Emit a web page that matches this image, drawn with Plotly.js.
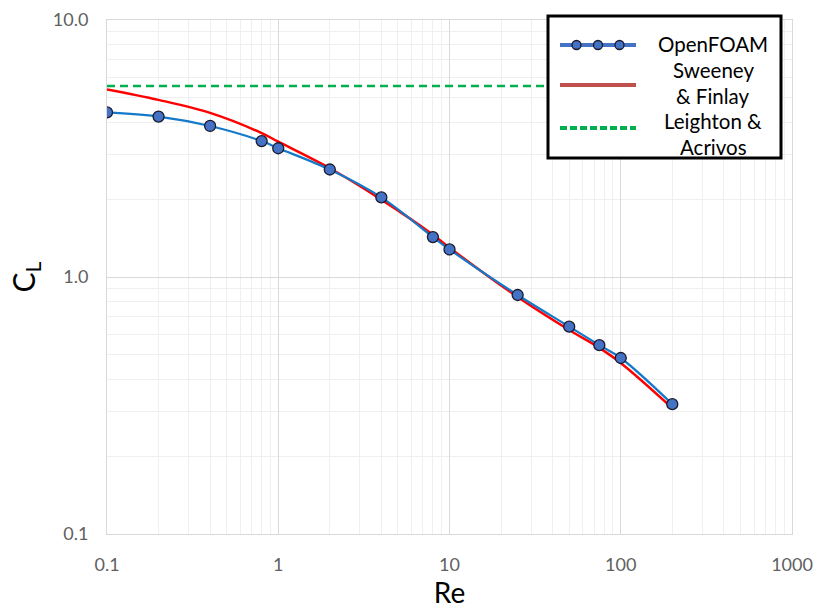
<!DOCTYPE html>
<html>
<head>
<meta charset="utf-8">
<script src="https://cdn.plot.ly/plotly-3.0.1.min.js"></script>
<style>
  html, body { margin: 0; padding: 0; background: #ffffff; }
  #chart { width: 817px; height: 609px; }
</style>
</head>
<body>
<div id="chart"></div>
<script>
// Lift coefficient of a sphere near a wall versus Reynolds number
const reOpenFoam = [0.1, 0.2, 0.4, 0.8, 1, 2, 4, 8, 10, 25, 50, 75, 100, 200];
const clOpenFoam = [4.37, 4.21, 3.87, 3.38, 3.17, 2.62, 2.04, 1.43, 1.28, 0.851, 0.641, 0.543, 0.484, 0.320];

const reSweeney = [0.1, 0.2, 0.4, 0.8, 1, 2, 4, 8, 10, 25, 50, 75, 100, 200];
const clSweeney = [5.37, 4.89, 4.35, 3.63, 3.36, 2.65, 2.00, 1.46, 1.30, 0.836, 0.622, 0.530, 0.463, 0.309];

const reLeighton = [0.1, 200];
const clLeighton = [5.53, 5.53];

const xTickVals = [0.1, 1, 10, 100, 1000];
const xTickText = ["0.1", "1", "10", "100", "1000"];
const yTickVals = [0.1, 1, 10];
const yTickText = ["0.1", "1.0", "10.0"];

// key labels: each entry split into its text lines
const legendNames = [["OpenFOAM"], ["Sweeney", "& Finlay"], ["Leighton &", "Acrivos"]];

const colBlueLine = "#1479C9";
const colBlueKey = "#4472C4";
const colRedLine = "#FF0000";
const colRedKey = "#C0504D";
const colGreen = "#00B050";
const colMarkerEdge = "#1a1a2e";

// minor grid positions: 2..9 within each decade
function minorVals(lo, hi) {
  const out = [];
  for (let d = lo; d < hi; d++) {
    for (let k = 2; k <= 9; k++) out.push(k * Math.pow(10, d));
  }
  return out;
}

const traces = [
  {
    name: "Leighton & Acrivos",
    x: reLeighton, y: clLeighton, mode: "lines",
    line: { color: colGreen, width: 2.5, dash: "8px,5px" }
  },
  {
    name: "Sweeney & Finlay",
    x: reSweeney, y: clSweeney, mode: "lines",
    line: { color: colRedLine, width: 2.5, shape: "spline", smoothing: 1 }
  },
  {
    name: "OpenFOAM",
    x: reOpenFoam, y: clOpenFoam, mode: "lines+markers",
    line: { color: colBlueLine, width: 2.2, shape: "spline", smoothing: 1 },
    marker: { color: colBlueKey, size: 11, line: { color: colMarkerEdge, width: 1.3 } }
  }
];

// ---- boxed key in the upper right corner (paper coordinates) ----
const plotL = 107, plotR = 792, plotT = 20, plotB = 534;
const px = v => (v - plotL) / (plotR - plotL);
const py = v => (plotB - v) / (plotB - plotT);

const keyX0 = 560, keyX1 = 636;
const keyRows = [45, 85, 128];
const shapes = [
  {
    type: "rect", xref: "paper", yref: "paper", layer: "above",
    x0: px(548), x1: px(781), y0: py(158), y1: py(16),
    fillcolor: "#ffffff", line: { color: "#000000", width: 3 }
  },
  {
    type: "line", xref: "paper", yref: "paper", layer: "above",
    x0: px(keyX0), x1: px(keyX1), y0: py(keyRows[0]), y1: py(keyRows[0]),
    line: { color: colBlueKey, width: 4 }
  },
  {
    type: "line", xref: "paper", yref: "paper", layer: "above",
    x0: px(keyX0), x1: px(keyX1), y0: py(keyRows[1]), y1: py(keyRows[1]),
    line: { color: colRedKey, width: 4 }
  },
  {
    type: "line", xref: "paper", yref: "paper", layer: "above",
    x0: px(keyX0), x1: px(keyX1), y0: py(keyRows[2]), y1: py(keyRows[2]),
    line: { color: colGreen, width: 4, dash: "7px,3px" }
  }
];
[576.5, 598, 619.5].forEach(cx => {
  shapes.push({
    type: "circle", xref: "paper", yref: "paper", layer: "above",
    xsizemode: "pixel", ysizemode: "pixel",
    xanchor: px(cx), yanchor: py(keyRows[0]),
    x0: -4.5, x1: 4.5, y0: -4.5, y1: 4.5,
    fillcolor: colBlueKey, line: { color: colMarkerEdge, width: 1.3 }
  });
});

const keyTextCx = 713;
const keyLineY = [[44], [70, 95.5], [121, 146.5]];
const annotations = [];
legendNames.forEach((lines, i) => {
  lines.forEach((t, j) => {
    annotations.push({
      xref: "paper", yref: "paper", x: px(keyTextCx), y: py(keyLineY[i][j]),
      xanchor: "center", yanchor: "middle", showarrow: false, text: t, borderpad: 0,
      font: { family: "Lato, 'Open Sans', sans-serif", size: 20.5, color: "#000000" }
    });
  });
});

const tickFont = { family: "Lato, 'Open Sans', sans-serif", size: 18, color: "#606060" };

const layout = {
  width: 817,
  height: 609,
  margin: { l: plotL, r: 817 - plotR, t: plotT, b: 609 - plotB },
  paper_bgcolor: "#ffffff",
  plot_bgcolor: "#ffffff",
  font: { family: "Lato, 'Open Sans', sans-serif", color: "#000000" },
  showlegend: false,
  xaxis: {
    type: "log",
    range: [-1, 3],
    tickvals: xTickVals,
    ticktext: xTickText,
    ticks: "",
    ticklabelstandoff: 14,
    tickfont: tickFont,
    showgrid: true,
    gridcolor: "#d9d9d9",
    gridwidth: 1,
    minor: { tickvals: minorVals(-1, 3), showgrid: true, gridcolor: "#efefef", gridwidth: 1, ticks: "" },
    showline: true, linecolor: "#d9d9d9", linewidth: 1, mirror: true,
    zeroline: false,
    title: { text: "Re", font: { size: 28, color: "#000000" }, standoff: 6 }
  },
  yaxis: {
    type: "log",
    range: [-1, 1],
    tickvals: yTickVals,
    ticktext: yTickText,
    ticks: "",
    ticklabelstandoff: 14,
    tickfont: tickFont,
    showgrid: true,
    gridcolor: "#d9d9d9",
    gridwidth: 1,
    minor: { tickvals: minorVals(-1, 1), showgrid: true, gridcolor: "#efefef", gridwidth: 1, ticks: "" },
    showline: true, linecolor: "#d9d9d9", linewidth: 1, mirror: true,
    zeroline: false,
    title: { text: "C<sub>L</sub>", font: { size: 30, color: "#000000" }, standoff: 8 }
  },
  shapes: shapes,
  annotations: annotations
};

Plotly.newPlot("chart", traces, layout, { displayModeBar: false, staticPlot: true });
</script>
</body>
</html>
